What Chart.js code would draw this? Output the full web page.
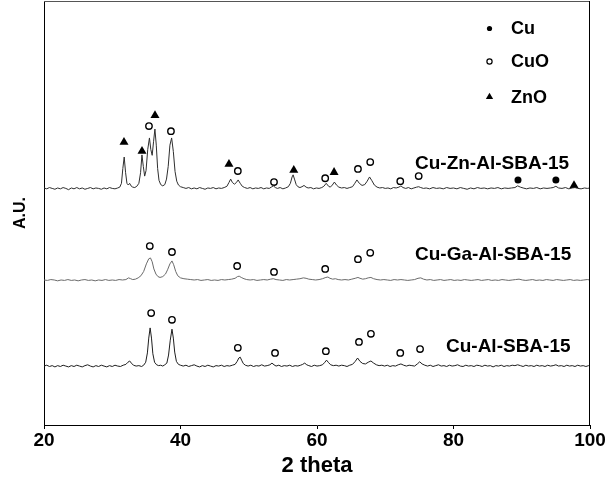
<!DOCTYPE html>
<html><head><meta charset="utf-8">
<script src="https://cdn.jsdelivr.net/npm/chart.js@4/dist/chart.umd.min.js"></script>
<style>html,body{margin:0;padding:0;background:#fff;}#wrap{width:615px;height:479px;}</style>
</head><body><div id="wrap"><canvas id="c" width="615" height="479"></canvas></div>
<script>
// ---------- data (2 theta, intensity in arbitrary units) ----------
const xTicks = [20, 40, 60, 80, 100];

const znTheta = [20.0,20.4,20.8,21.2,21.6,22.0,22.4,22.8,23.2,23.6,24.0,24.4,24.8,25.2,25.6,26.0,26.4,26.8,27.2,27.6,28.0,28.4,28.8,29.2,29.6,30.0,30.4,30.8,31.1,31.35,31.55,31.75,31.95,32.15,32.35,32.55,32.75,33.0,33.3,33.6,33.9,34.15,34.35,34.55,34.75,34.95,35.2,35.45,35.65,35.85,36.05,36.25,36.45,36.65,36.85,37.1,37.4,37.7,37.95,38.2,38.45,38.7,38.95,39.2,39.45,39.7,40.0,40.4,40.8,41.2,41.6,42.0,42.4,42.8,43.2,43.6,44.0,44.4,44.8,45.2,45.6,46.0,46.4,46.8,47.1,47.35,47.6,47.9,48.2,48.45,48.75,49.05,49.4,49.8,50.2,50.6,51.0,51.4,51.8,52.2,52.6,53.0,53.3,53.6,53.9,54.2,54.6,55.0,55.4,55.8,56.1,56.35,56.5,56.7,56.95,57.2,57.5,57.8,58.1,58.4,58.7,59.1,59.5,59.9,60.3,60.7,61.0,61.35,61.7,61.95,62.25,62.55,62.85,63.2,63.6,64.0,64.4,64.8,65.2,65.5,65.85,66.2,66.6,67.0,67.35,67.7,68.05,68.4,68.8,69.2,69.6,70.0,70.4,70.8,71.2,71.6,72.0,72.3,72.6,73.0,73.4,73.8,74.2,74.6,74.9,75.2,75.6,76.0,76.5,77.0,77.5,78.0,78.5,79.0,79.5,80.0,80.5,81.0,81.5,82.0,82.5,83.0,83.5,84.0,84.5,85.0,85.5,86.0,86.5,87.0,87.5,88.0,88.5,89.0,89.4,89.8,90.2,90.7,91.2,91.7,92.2,92.7,93.2,93.7,94.2,94.6,95.0,95.4,95.9,96.4,96.9,97.4,97.8,98.2,98.7,99.2,99.6,100.0];
const znInt = [559,557,560,558,556,559,557,560,558,555,559,557,560,557,559,556,558,560,557,559,558,556,559,557,560,558,557,559,561,570,605,632,596,570,566,570,564,561,560,563,570,595,637,610,587,600,650,677,650,636,668,698,660,605,577,567,564,567,580,610,660,677,645,598,575,566,562,560,558,560,557,559,557,560,558,556,559,558,560,557,559,558,560,563,572,580,572,568,572,578,570,563,560,558,560,557,559,558,560,557,559,558,561,564,560,558,560,557,559,562,570,585,590,580,567,562,560,562,565,561,559,560,557,559,558,560,563,570,563,561,566,573,566,561,559,560,558,560,562,569,578,570,565,567,575,585,576,566,561,559,560,558,559,557,560,559,561,564,560,558,560,557,559,561,562,560,558,559,557,560,558,559,557,560,558,559,557,560,558,556,559,557,560,558,559,557,559,558,560,557,559,558,559,560,564,561,559,557,559,558,560,557,559,558,559,560,563,559,558,560,557,559,560,558,557,559,558,559];

const gaTheta = [20.0,20.5,21.0,21.5,22.0,22.5,23.0,23.5,24.0,24.5,25.0,25.5,26.0,26.5,27.0,27.5,28.0,28.5,29.0,29.5,30.0,30.5,31.0,31.5,32.0,32.4,32.7,33.0,33.4,33.8,34.2,34.6,35.0,35.35,35.6,35.85,36.1,36.4,36.7,37.0,37.4,37.8,38.1,38.45,38.75,39.0,39.3,39.6,40.0,40.5,41.0,41.5,42.0,42.5,43.0,43.5,44.0,44.5,45.0,45.5,46.0,46.5,47.0,47.5,48.0,48.35,48.6,48.9,49.3,49.7,50.2,50.7,51.2,51.7,52.2,52.7,53.2,53.6,54.0,54.5,55.0,55.5,56.0,56.5,57.0,57.5,58.0,58.4,58.8,59.3,59.8,60.3,60.8,61.3,61.6,61.9,62.3,62.7,63.1,63.6,64.1,64.6,65.1,65.6,66.0,66.3,66.7,67.1,67.5,67.9,68.3,68.8,69.3,69.8,70.3,70.8,71.3,71.8,72.3,72.8,73.3,73.8,74.3,74.8,75.2,75.6,76.1,76.6,77.1,77.6,78.1,78.6,79.1,79.6,80.1,80.6,81.1,81.6,82.1,82.6,83.1,83.6,84.1,84.6,85.1,85.6,86.1,86.6,87.1,87.6,88.1,88.6,89.1,89.6,90.1,90.6,91.1,91.6,92.1,92.6,93.1,93.6,94.1,94.6,95.1,95.6,96.1,96.6,97.1,97.6,98.1,98.6,99.1,99.6,100.0];
const gaInt = [342,341,343,342,340,342,341,343,341,342,340,342,343,341,342,340,342,341,343,341,342,341,343,342,343,347,345,343,344,347,352,362,380,392,394,385,368,356,350,348,350,356,366,380,387,378,362,352,347,345,344,343,342,343,341,342,343,341,342,341,343,342,343,344,346,350,351,348,345,343,342,343,341,342,343,342,344,345,343,342,341,343,342,343,344,345,347,346,344,343,342,343,345,348,349,346,344,345,343,342,343,342,344,346,348,346,344,345,347,348,345,343,342,343,342,341,343,342,343,342,341,342,343,346,347,344,342,343,341,342,343,341,342,343,341,342,341,343,342,341,342,343,341,342,343,341,342,341,343,342,341,342,343,344,342,341,342,343,341,342,341,343,342,341,343,342,341,342,343,341,342,341,342,343,342];

const alTheta = [20.0,20.4,20.8,21.2,21.6,22.0,22.4,22.8,23.2,23.6,24.0,24.4,24.8,25.2,25.6,26.0,26.4,26.8,27.2,27.6,28.0,28.4,28.8,29.2,29.6,30.0,30.4,30.8,31.2,31.6,32.0,32.3,32.55,32.8,33.1,33.5,33.9,34.3,34.6,34.9,35.15,35.35,35.55,35.75,35.95,36.2,36.5,36.8,37.1,37.4,37.7,38.0,38.25,38.5,38.75,38.95,39.15,39.4,39.7,40.0,40.4,40.8,41.2,41.6,42.0,42.4,42.8,43.2,43.6,44.0,44.4,44.8,45.2,45.6,46.0,46.4,46.8,47.2,47.6,48.0,48.3,48.55,48.75,48.95,49.2,49.5,49.9,50.3,50.7,51.1,51.5,51.9,52.3,52.7,53.1,53.4,53.7,54.0,54.4,54.8,55.2,55.6,56.0,56.4,56.8,57.2,57.6,57.9,58.2,58.5,58.8,59.2,59.6,60.0,60.4,60.8,61.1,61.4,61.7,62.0,62.4,62.8,63.2,63.6,64.0,64.4,64.8,65.2,65.6,65.95,66.3,66.7,67.1,67.5,67.9,68.3,68.7,69.1,69.5,69.9,70.3,70.7,71.1,71.5,71.9,72.3,72.7,73.1,73.5,73.9,74.3,74.7,75.05,75.4,75.8,76.2,76.6,77.0,77.4,77.8,78.2,78.6,79.0,79.4,79.8,80.2,80.6,81.0,81.4,81.8,82.2,82.6,83.0,83.4,83.8,84.2,84.6,85.0,85.4,85.8,86.2,86.6,87.0,87.4,87.8,88.2,88.6,89.0,89.4,89.8,90.2,90.6,91.0,91.4,91.8,92.2,92.6,93.0,93.4,93.8,94.2,94.6,95.0,95.4,95.8,96.2,96.6,97.0,97.4,97.8,98.2,98.6,99.0,99.4,99.8,100.0];
const alInt = [139,141,138,140,137,140,138,141,139,137,140,138,141,139,137,140,142,139,137,140,138,141,139,137,140,138,141,139,138,141,143,148,151,146,141,139,140,138,141,148,170,205,229,205,168,148,142,140,141,139,142,146,165,200,226,205,172,150,143,141,139,141,138,140,142,139,137,140,138,141,139,137,140,139,141,138,140,139,141,143,150,158,160,153,145,141,139,141,138,140,139,142,139,140,142,146,142,139,141,138,140,139,141,138,140,139,141,143,146,142,140,138,141,139,140,142,147,153,147,142,140,141,139,141,140,138,141,143,150,158,150,145,144,148,151,146,142,140,141,139,141,138,140,139,142,144,141,139,141,140,139,144,149,144,141,139,141,138,140,142,139,140,138,141,139,140,142,139,138,141,139,140,138,141,140,138,141,139,140,137,140,139,141,138,140,139,141,140,142,140,138,141,139,140,138,141,139,140,138,141,139,140,142,139,140,138,141,139,140,138,141,139,140,138,140,139];

// phase markers
const znoTheta = [31.72, 34.36, 36.26, 47.1, 56.6, 62.5, 97.66];
const znoInt   = [667, 646, 730, 615, 601, 596, 565];
const cuoTheta = [35.38, 38.6, 48.4, 53.7, 61.2, 66.0, 67.8, 72.2, 74.9,
                  35.5, 38.75, 48.3, 53.7, 61.2, 66.0, 67.8,
                  35.7, 38.75, 48.4, 53.85, 61.3, 66.15, 67.9, 72.2, 75.1];
const cuoInt   = [705, 693, 599, 573, 582, 604, 620, 575, 587,
                  422, 408, 375, 361, 368, 391, 406,
                  264, 248, 182, 170, 174, 196, 215, 170, 179];
const cuTheta  = [89.45, 95.0];
const cuInt    = [578, 578];

// sample labels (anchored at 2 theta / intensity)
const sampleNames = ['Cu-Zn-Al-SBA-15', 'Cu-Ga-Al-SBA-15', 'Cu-Al-SBA-15'];
const sampleLabelTheta = [74.36, 74.36, 78.9];
const sampleLabelInt = [603, 389, 172];

const legendNames = ['Cu', 'CuO', 'ZnO'];

// ---------- build ----------
const pts = (xs, ys) => xs.map((x, i) => ({x: x, y: ys[i]}));
const FONT = "'Liberation Sans', Arial, sans-serif";
const NARROW = "'Liberation Sans Narrow', 'Arial Narrow', 'Liberation Sans', Arial, sans-serif";

function drawMarker(ctx, type, x, y, r) {
  ctx.save();
  ctx.beginPath();
  if (type === 'Cu') {
    ctx.arc(x, y, r, 0, Math.PI * 2);
    ctx.fillStyle = '#000'; ctx.fill();
  } else if (type === 'CuO') {
    ctx.arc(x, y, r, 0, Math.PI * 2);
    ctx.fillStyle = '#fff'; ctx.fill();
    ctx.lineWidth = 1.2; ctx.strokeStyle = '#000'; ctx.stroke();
  } else {
    ctx.moveTo(x, y - r);
    ctx.lineTo(x + r * 0.87, y + r * 0.5);
    ctx.lineTo(x - r * 0.87, y + r * 0.5);
    ctx.closePath();
    ctx.fillStyle = '#000'; ctx.fill();
  }
  ctx.restore();
}

const annotations = {
  id: 'annotations',
  afterDraw(chart) {
    const {ctx, chartArea: a, scales: {x, y}} = chart;
    ctx.save();
    // frame (top and right)
    ctx.lineWidth = 1;
    ctx.strokeStyle = '#555';
    ctx.beginPath(); ctx.moveTo(a.left, a.top + 0.5); ctx.lineTo(a.right, a.top + 0.5); ctx.stroke();
    ctx.strokeStyle = '#000';
    ctx.beginPath(); ctx.moveTo(a.right - 0.5, a.top); ctx.lineTo(a.right - 0.5, a.bottom); ctx.stroke();
    // sample labels
    ctx.fillStyle = '#000';
    ctx.font = 'bold 19px ' + FONT;
    ctx.textAlign = 'left';
    ctx.textBaseline = 'alphabetic';
    sampleNames.forEach((n, i) => {
      ctx.fillText(n, x.getPixelForValue(sampleLabelTheta[i]), y.getPixelForValue(sampleLabelInt[i]));
    });
    // legend
    ctx.font = 'bold 18px ' + FONT;
    ctx.textBaseline = 'middle';
    const ly = [27.5, 60.5, 96];
    legendNames.forEach((n, i) => {
      drawMarker(ctx, n, a.right - 100.5, a.top + ly[i], n === 'ZnO' ? 4.2 : 2.6);
      ctx.fillStyle = '#000';
      ctx.fillText(n, a.right - 79, a.top + ly[i] + 1);
    });
    ctx.restore();
  }
};

const traceDs = (data, color) => ({
  data: data, showLine: true, borderColor: color, borderWidth: 1,
  pointRadius: 0, pointHoverRadius: 0, tension: 0, fill: false
});

new Chart(document.getElementById('c'), {
  type: 'scatter',
  data: {
    datasets: [
      traceDs(pts(znTheta, znInt), '#2e2e2e'),
      traceDs(pts(gaTheta, gaInt), '#6a6a6a'),
      traceDs(pts(alTheta, alInt), '#1e1e1e'),
      { label: 'CuO', data: pts(cuoTheta, cuoInt), pointStyle: 'circle', pointRadius: 3.2,
        backgroundColor: '#fff', borderColor: '#000', borderWidth: 1.4, pointHoverRadius: 3.2 },
      { label: 'ZnO', data: pts(znoTheta, znoInt), pointStyle: 'triangle', pointRadius: 5.2,
        backgroundColor: '#000', borderColor: '#000', borderWidth: 0, pointHoverRadius: 5.2 },
      { label: 'Cu', data: pts(cuTheta, cuInt), pointStyle: 'circle', pointRadius: 3.5,
        backgroundColor: '#000', borderColor: '#000', borderWidth: 0, pointHoverRadius: 3.5 }
    ]
  },
  options: {
    responsive: false, animation: false, devicePixelRatio: 1,
    layout: { autoPadding: false, padding: { left: 0, top: 1, right: 25, bottom: 0 } },
    plugins: { legend: { display: false }, tooltip: { enabled: false } },
    scales: {
      x: {
        type: 'linear', min: 20, max: 100,
        afterBuildTicks: (s) => { s.ticks = xTicks.map(v => ({value: v})); },
        afterFit: (s) => { s.height = 54; },
        grid: { display: true, drawOnChartArea: false, drawTicks: true, tickLength: 4, color: '#000' },
        border: { display: true, color: '#000', width: 1 },
        ticks: { color: '#000', padding: 0, font: { family: NARROW, size: 19, weight: 'bold' }, maxRotation: 0 },
        title: { display: true, text: '2 theta', color: '#000', padding: { top: 0, bottom: 0 },
                 font: { family: NARROW, size: 22, weight: 'bold' } }
      },
      y: {
        type: 'linear', min: 0, max: 1000,
        afterFit: (s) => { s.width = 44; },
        grid: { display: false },
        border: { display: true, color: '#000', width: 1 },
        ticks: { display: false },
        title: { display: true, text: 'A.U.', color: '#000', padding: { top: 11, bottom: 0 },
                 font: { family: FONT, size: 16, weight: 'bold' } }
      }
    }
  },
  plugins: [annotations]
});
</script>
</body></html>
